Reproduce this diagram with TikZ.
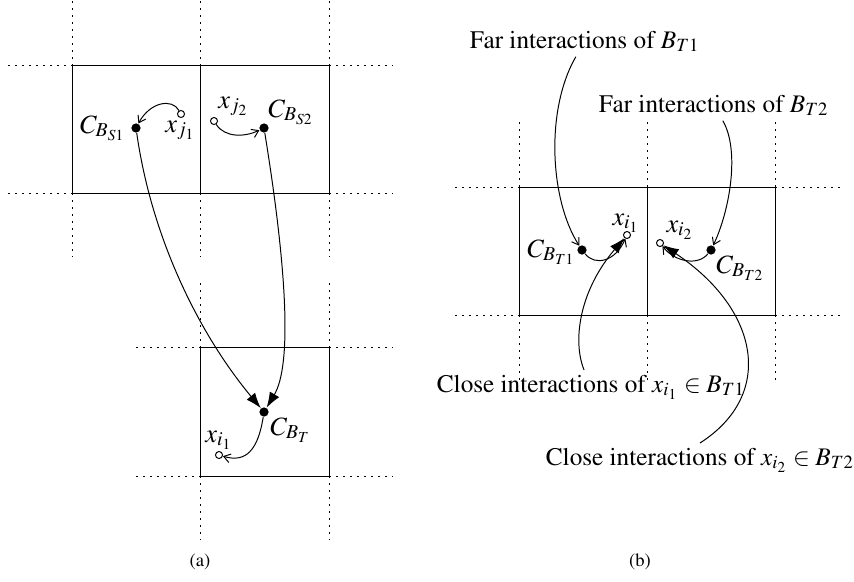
\documentclass[tikz,border=0pt]{standalone}
\usepackage[T1]{fontenc}
\usepackage{mathptmx}
\usetikzlibrary{arrows.meta,positioning}
\tikzset{
  >=stealth,
  line join=round,
  every picture/.style={line width=0.45pt},
  point/.style={circle, fill, inner sep=0pt, minimum size=4.2pt},
  hollow/.style={circle, draw, fill=white, inner sep=0pt, minimum size=3.2pt},
  gridext/.style={line cap=butt, dash pattern=on 0.8pt off 2.4pt},
  lbl/.style={inner sep=0pt, font=\fontsize{12}{14}\selectfont},
  note/.style={font=\fontsize{11.5}{14}\selectfont},
  caption/.style={font=\fontsize{8.5}{10}\selectfont},
  barb/.style={-{Straight Barb[length=3pt,width=4pt]}},
  heavy/.style={-{Latex[length=7pt,width=5pt]}}
}
\begin{document}
\begin{tikzpicture}[x=0.016cm, y=-0.016cm]
\useasboundingbox (0,0) rectangle (854,581);

% (a) source cells
\draw (72,65) rectangle (329,193);
\draw (200,65) -- (200,193);
\foreach \xx in {72,200,329} {
  \draw[gridext] (\xx,1) -- (\xx,65);
  \draw[gridext] (\xx,193) -- (\xx,257);
}
\foreach \yy in {65,193} {
  \draw[gridext] (8,\yy) -- (72,\yy);
  \draw[gridext] (329,\yy) -- (393,\yy);
}

% (a) target cell
\draw (200,347) rectangle (329,476);
\foreach \xx in {200,329} {
  \draw[gridext] (\xx,283) -- (\xx,347);
  \draw[gridext] (\xx,476) -- (\xx,540);
}
\foreach \yy in {347,476} {
  \draw[gridext] (136,\yy) -- (200,\yy);
  \draw[gridext] (329,\yy) -- (393,\yy);
}

% (a) points
\node[point] (cbs1) at (136,128) {};
\node[hollow] (xj1) at (181,114) {};
\node[hollow] (xj2) at (214,121) {};
\node[point] (cbs2) at (264,128) {};
\node[point] (cbt) at (264,412) {};
\node[hollow] (xi1a) at (219,455) {};

\node[lbl, anchor=base east] at (126,133) {$C_{B_{S1}}$};
\node[lbl, anchor=base west] at (165,132) {$x_{j_1}$};
\node[lbl, anchor=base west] at (218,108) {$x_{j_2}$};
\node[lbl, anchor=base west] at (268,117) {$C_{B_{S2}}$};
\node[lbl, anchor=base west] at (205,442) {$x_{i_1}$};
\node[lbl, anchor=base west] at (270,435) {$C_{B_T}$};

% (a) connectors
\draw[barb] (xj1) .. controls (172,98) and (150,102) .. (cbs1);
\draw[barb] (xj2) .. controls (225,138) and (245,137) .. (cbs2);
\draw[heavy] (cbs1) .. controls (152,240) and (200,335) .. (cbt);
\draw[heavy] (cbs2) .. controls (287,270) and (292,365) .. (cbt);
\draw[barb] (cbt) .. controls (258,450) and (246,463) .. (xi1a);

% (b) target cells
\draw (519,187) rectangle (775,315);
\draw (647,187) -- (647,315);
\foreach \xx in {519,647,775} {
  \draw[gridext] (\xx,122) -- (\xx,187);
  \draw[gridext] (\xx,315) -- (\xx,380);
}
\foreach \yy in {187,315} {
  \draw[gridext] (455,\yy) -- (519,\yy);
  \draw[gridext] (775,\yy) -- (840,\yy);
}

% (b) points
\node[point] (cbt1) at (582,250) {};
\node[hollow] (xi1b) at (627,235) {};
\node[hollow] (xi2b) at (660,243) {};
\node[point] (cbt2) at (711,250) {};

\node[lbl, anchor=base west] at (527,257) {$C_{B_{T1}}$};
\node[lbl, anchor=base west] at (612,225) {$x_{i_1}$};
\node[lbl, anchor=base west] at (666,232) {$x_{i_2}$};
\node[lbl, anchor=base west] at (716,273) {$C_{B_{T2}}$};

\node[note, anchor=base west, inner sep=2pt] (far1) at (465,48) {Far interactions of $B_{T1}$};
\node[note, anchor=base west, inner sep=2pt] (far2) at (594,112) {Far interactions of $B_{T2}$};
\node[note, anchor=base west, inner sep=2pt] (close1) at (432,392) {Close interactions of $x_{i_1}\in B_{T1}$};
\node[note, anchor=base west, inner sep=2pt] (close2) at (541,465) {Close interactions of $x_{i_2}\in B_{T2}$};

% (b) connectors
\draw[barb] (cbt1) .. controls (595,266) and (615,262) .. (xi1b);
\draw[barb] (cbt2) .. controls (698,266) and (675,262) .. (xi2b);
\draw[barb] (far1) .. controls (545,110) and (550,200) .. (cbt1);
\draw[barb] (far2) .. controls (740,150) and (730,210) .. (cbt2);
\draw[heavy] (close1) .. controls (572,340) and (580,290) .. (xi1b);
\draw[heavy] (close2.north) .. controls (775,395) and (760,310) .. (xi2b);

% captions
\node[caption] (capa) at (200,562) {(a)};
\node[caption] (capb) at (640,562) {(b)};
\end{tikzpicture}
\end{document}
